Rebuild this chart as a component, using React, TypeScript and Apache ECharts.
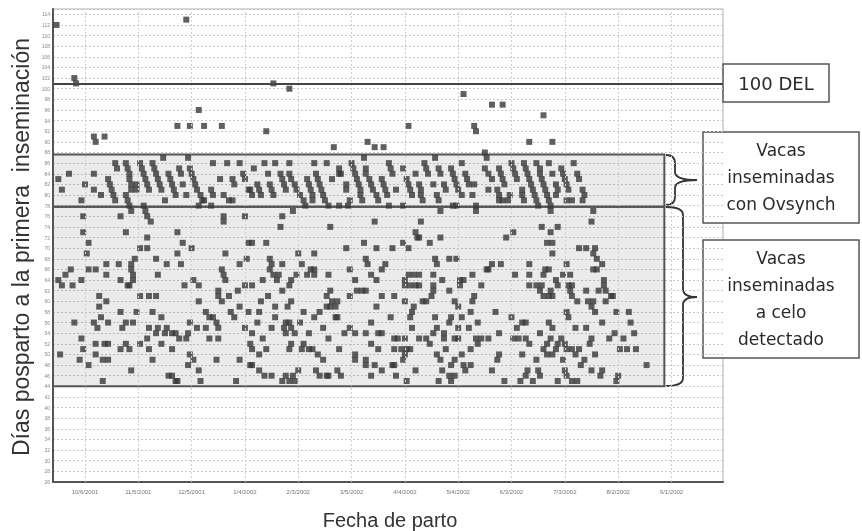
import React, { useEffect, useRef } from "react";
import * as echarts from "echarts";

// x = calving date as day offset from 10/6/2001, y = days postpartum at first insemination
const BASE_YEAR = 2001;
const BASE_MONTH = 9; // October (0-based)
const BASE_DAY = 6;

const X_TICKS = [0, 30, 60, 90, 120, 150, 180, 210, 240, 270, 300, 330];
const X_MIN = -18;
const X_MAX = 359;
const Y_MIN = 26;
const Y_MAX = 115;

const DEL_LINE = 100.9;
const OVSYNCH_BAND = [77.8, 87.6];
const ESTRUS_BAND = [44.0, 77.8];
const BOX_RIGHT = 326;

const OUTLIERS = [
  [-16, 112], [57, 113], [-6, 102], [-5, 101], [5, 91], [6, 90], [11, 91], [64, 96], [52, 93], [59, 93],
  [67, 93], [77, 93], [106, 101], [115, 100], [102, 92], [140, 89], [159, 90], [163, 89], [168, 89], [182, 93],
  [213, 99], [229, 97], [235, 97], [258, 95], [219, 93], [220, 92], [250, 90], [263, 90],
];

const BAND_A = [
  [-15, 83], [-13, 81], [-9, 84], [-2, 79], [0, 82], [5, 84], [5, 81], [9, 80],
  [13, 83], [14, 82], [15, 81], [16, 80], [17, 79], [17, 86], [18, 85],
  [23, 86], [24, 85], [25, 84], [25, 83], [26, 82], [26, 81], [23, 80], [24, 79], [25, 78],
  [31, 86], [32, 85], [33, 84], [34, 83], [35, 82], [36, 81], [29, 82], [29, 81],
  [38, 86], [39, 85], [40, 84], [41, 83], [42, 82], [43, 81], [33, 78],
  [44, 87], [47, 84], [48, 83], [49, 82], [50, 81], [51, 80], [45, 79],
  [53, 85], [54, 84], [58, 87], [59, 85], [60, 84], [61, 83], [62, 82], [63, 81], [55, 82], [57, 80],
  [65, 80], [66, 79], [67, 79], [64, 78], [72, 86], [71, 81], [72, 80], [76, 83], [80, 86], [83, 83],
  [84, 82], [87, 86], [89, 84], [90, 83], [92, 81], [94, 80], [95, 85], [78, 80], [81, 79], [83, 79], [71, 78],
];

const BAND_B = [
  [101, 86], [107, 86], [115, 86], [103, 84], [93, 81], [97, 82], [98, 81], [99, 80], [104, 82], [105, 81], [106, 80],
  [110, 84], [111, 83], [112, 82], [113, 81], [115, 84], [116, 83], [118, 82], [119, 81], [121, 80],
  [125, 83], [126, 82], [127, 81], [128, 80], [128, 79], [123, 79], [124, 78], [129, 86],
  [130, 84], [131, 83], [132, 82], [133, 81], [134, 80], [135, 79], [137, 78], [136, 86], [139, 83],
  [143, 85], [143, 84], [144, 84], [147, 82], [147, 81], [143, 78], [148, 78], [149, 79],
  [150, 86], [151, 85], [152, 84], [153, 83], [154, 82], [155, 81], [155, 80], [156, 79], [157, 87],
  [158, 85], [158, 84], [160, 83], [161, 82], [162, 81], [164, 80], [165, 79],
  [167, 83], [168, 82], [169, 81], [170, 80], [171, 86], [172, 85], [173, 84], [171, 78], [175, 81],
  [179, 85], [179, 78], [181, 83], [182, 82], [183, 81], [184, 80], [186, 84],
  [188, 82], [189, 81], [189, 80], [190, 79], [191, 86], [192, 85], [193, 84], [196, 82], [197, 87],
  [199, 85], [200, 84], [198, 80], [199, 79], [202, 82], [203, 81],
];

const BAND_C = [
  [206, 85], [207, 84], [212, 86], [208, 83], [209, 82], [210, 81], [212, 80], [214, 84], [215, 83], [216, 82],
  [219, 82], [218, 80], [207, 78], [209, 78], [220, 78], [225, 88], [226, 87], [225, 85], [227, 84], [229, 83], [227, 81],
  [232, 81], [233, 80], [233, 79], [235, 79], [238, 79], [233, 85], [234, 84], [235, 83], [236, 82],
  [240, 86], [241, 85], [242, 84], [243, 83], [239, 80], [247, 86], [248, 85], [249, 84], [246, 81], [246, 80], [247, 79],
  [250, 83], [251, 82], [252, 81], [253, 80], [254, 79], [255, 78],
  [254, 86], [256, 85], [256, 84], [257, 83], [258, 82], [259, 81], [260, 80], [261, 79], [262, 78],
  [261, 86], [263, 84], [265, 82], [266, 81], [265, 80],
  [268, 85], [269, 84], [270, 83], [271, 82], [272, 81], [271, 79], [274, 79],
  [275, 86], [277, 84], [278, 83], [280, 81], [281, 80], [280, 79],
];

const LOW_A = [
  [26, 77], [34, 77], [35, 76], [37, 75], [-1, 76], [20, 76], [-1, 73], [23, 73], [35, 72], [52, 73], [78, 76], [78, 75], [90, 76],
  [2, 71], [1, 69], [31, 70], [35, 70], [28, 68], [12, 67], [19, 67], [2, 66], [6, 66],
  [26, 67], [26, 66], [27, 65], [27, 64], [25, 63], [-8, 66], [-11, 65], [-15, 64], [-13, 63], [-2, 64], [-7, 63], [12, 65], [20, 64], [24, 63],
  [40, 68], [46, 67], [52, 69], [55, 71], [60, 70], [54, 67], [41, 65], [56, 63], [61, 64], [64, 63],
  [79, 69], [77, 66], [78, 65], [79, 64], [87, 67], [91, 68], [92, 71], [94, 71], [90, 63], [94, 63],
  [8, 61], [12, 60], [8, 59], [31, 61], [36, 61], [40, 61], [64, 60], [75, 62], [75, 61], [77, 60], [81, 61], [86, 62],
  [20, 58], [29, 58], [38, 58], [9, 57], [43, 57], [-6, 56], [5, 56], [7, 55], [13, 56], [23, 56], [27, 56], [21, 55],
  [36, 55], [41, 55], [40, 54], [46, 55], [45, 54], [49, 54], [51, 54], [53, 53], [58, 54], [57, 53],
  [68, 58], [70, 57], [72, 57], [74, 56], [75, 55], [70, 53], [75, 53], [59, 56], [63, 55], [68, 55],
  [82, 58], [84, 57], [87, 59], [92, 58], [90, 55], [94, 54],
  [-2, 53], [-1, 51], [6, 52], [6, 50], [13, 52], [11, 52], [10, 49], [13, 49], [-14, 50], [-3, 49], [2, 48],
  [20, 51], [23, 52], [25, 51], [31, 52], [35, 53], [36, 51], [38, 49], [43, 52], [49, 51],
  [59, 50], [61, 49], [58, 48], [64, 47], [74, 49], [87, 49], [93, 48], [93, 52], [94, 51],
  [26, 47], [10, 45], [47, 46], [49, 46], [51, 45], [52, 45], [65, 45], [85, 45],
];

const LOW_B = [
  [111, 76], [110, 74], [117, 77], [138, 74], [163, 75], [189, 75], [186, 73], [187, 72], [200, 77],
  [102, 71], [120, 69], [129, 69], [147, 70], [157, 71], [164, 70], [173, 70], [179, 71], [182, 70], [188, 72], [194, 71], [200, 72],
  [104, 68], [105, 67], [111, 67], [104, 66], [106, 65], [109, 65], [108, 64],
  [122, 67], [127, 66], [129, 66], [125, 65], [129, 65], [137, 65], [116, 64], [115, 63], [119, 65], [100, 64],
  [111, 62], [103, 61], [99, 60], [98, 58], [107, 59], [114, 59], [116, 60],
  [138, 62], [136, 61], [139, 60], [142, 60], [136, 59], [138, 59], [141, 59], [142, 57], [149, 61],
  [149, 66], [152, 64], [158, 68], [159, 67], [161, 65], [164, 64], [167, 66], [169, 67],
  [153, 62], [156, 62], [158, 62], [167, 61], [174, 61], [164, 59],
  [180, 64], [182, 65], [185, 65], [188, 65], [180, 63], [183, 63], [186, 63], [188, 63],
  [196, 65], [196, 63], [196, 62], [195, 61], [192, 60], [190, 60], [201, 64], [197, 68], [198, 67], [205, 68],
  [180, 60], [185, 59], [184, 58], [183, 57], [172, 57], [197, 57], [123, 58], [129, 57], [132, 58], [141, 57], [107, 57],
  [97, 56], [105, 55], [113, 56], [115, 56], [112, 55], [116, 55], [118, 54], [113, 54], [121, 56],
  [100, 53], [102, 51], [98, 50],
  [134, 55], [137, 53], [126, 54], [146, 54], [149, 55], [152, 54], [158, 54], [165, 54], [167, 54], [161, 56],
  [116, 52], [115, 51], [122, 51], [123, 52], [126, 51], [128, 51], [131, 50], [134, 49],
  [143, 51], [152, 50], [152, 49], [158, 49], [161, 52], [165, 51],
  [174, 53], [176, 53], [180, 53], [174, 51], [178, 51], [181, 51], [183, 51], [180, 50], [179, 49], [173, 48],
  [184, 55], [188, 53], [192, 53], [194, 52], [196, 54], [198, 55], [202, 54], [198, 50], [200, 49], [202, 53], [203, 51], [205, 56], [206, 57],
  [94, 48], [98, 47], [101, 46], [105, 46], [111, 45], [113, 46], [115, 45], [117, 46], [118, 45], [120, 47],
  [130, 47], [132, 46], [136, 46], [137, 46], [142, 47], [144, 46],
  [158, 48], [163, 48], [167, 47], [161, 46], [174, 48], [175, 46], [181, 45], [186, 47],
  [199, 45], [201, 47], [205, 46],
];

const LOW_C = [
  [220, 77], [286, 77], [285, 75], [262, 77], [257, 74], [262, 73], [266, 74], [237, 72], [241, 73],
  [260, 71], [263, 71], [263, 69],
  [278, 70], [282, 70], [287, 70], [286, 69], [288, 68], [291, 67], [286, 66], [288, 66],
  [209, 68], [229, 67], [234, 67], [227, 66], [226, 66], [218, 65], [223, 63],
  [250, 67], [259, 66], [261, 66], [258, 65], [242, 65], [250, 65], [250, 63], [254, 63], [256, 62], [257, 63], [258, 61], [261, 61], [263, 61], [262, 62], [265, 64], [266, 63],
  [269, 65], [273, 65], [271, 67], [272, 63], [274, 63], [273, 62], [274, 61], [277, 60], [271, 58], [272, 57],
  [282, 62], [283, 60], [286, 60], [285, 59], [287, 58], [289, 62], [292, 63], [292, 64], [293, 62], [296, 61], [297, 61], [293, 60], [291, 56],
  [299, 58], [306, 58], [307, 56], [309, 54], [298, 54], [295, 53], [303, 53],
  [301, 51], [305, 51], [310, 51], [316, 48],
  [211, 64], [213, 64], [211, 63], [205, 62], [208, 60], [210, 59], [217, 58], [218, 60], [219, 61], [212, 57], [210, 55], [216, 55], [221, 56], [231, 58], [233, 54],
  [208, 53], [210, 53], [220, 53], [221, 52], [223, 53], [227, 53], [217, 51], [212, 50], [208, 49], [206, 48], [213, 48], [214, 47], [217, 48], [229, 47], [233, 50], [232, 49], [206, 45], [208, 46],
  [240, 57], [243, 55], [246, 56], [248, 56], [241, 53], [244, 53], [248, 53], [250, 52], [246, 50], [254, 49], [256, 54],
  [261, 56], [263, 55], [262, 53], [260, 52], [258, 51], [260, 50], [263, 50], [265, 51], [266, 52], [268, 53], [270, 52], [271, 51], [274, 51], [276, 50], [278, 51], [269, 49],
  [276, 55], [282, 55], [285, 53], [284, 52], [287, 50], [281, 49], [279, 48],
  [236, 45], [245, 45], [248, 46], [249, 47], [252, 45], [255, 47], [256, 46], [266, 45], [270, 47], [271, 46], [274, 45], [277, 45], [285, 47], [291, 47], [290, 46], [300, 46], [299, 45],
];

const fmtDate = (v: number) => {
  const d = new Date(BASE_YEAR, BASE_MONTH, BASE_DAY + v);
  return `${d.getMonth() + 1}/${d.getDate()}/${d.getFullYear()}`;
};

function bracePath(x0: number, spine: number, tip: number, y1: number, y2: number, ym: number) {
  const r = 8;
  return (
    `M${x0} ${y1} Q${spine} ${y1} ${spine} ${y1 + r} L${spine} ${ym - r} ` +
    `Q${spine} ${ym} ${tip} ${ym} Q${spine} ${ym} ${spine} ${ym + r} ` +
    `L${spine} ${y2 - r} Q${spine} ${y2} ${x0} ${y2}`
  );
}

export default function App() {
  const ref = useRef<HTMLDivElement>(null);

  useEffect(() => {
    if (!ref.current) return;
    echarts.graphic.registerShape("brace1", echarts.graphic.extendPath(bracePath(666, 675, 697, 155, 205, 180), {}));
    echarts.graphic.registerShape("brace2", echarts.graphic.extendPath(bracePath(666, 683, 697, 207, 386, 297), {}));

    const chart = echarts.init(ref.current, null, { renderer: "svg" });
    const points = [...OUTLIERS, ...BAND_A, ...BAND_B, ...BAND_C, ...LOW_A, ...LOW_B, ...LOW_C];
    const boxStyle = { color: "rgba(0,0,0,0.08)", borderColor: "#555", borderWidth: 2 };
    const textFont = "'DejaVu Sans', 'Noto Sans', sans-serif";

    chart.setOption({
      animation: false,
      grid: {
        left: 53, right: 139, top: 9, bottom: 49,
        show: true, borderColor: "#b0b0b0", borderWidth: 1,
      },
      xAxis: {
        type: "value", min: X_MIN, max: X_MAX,
        axisLine: { show: true, onZero: false, lineStyle: { color: "#555", width: 2 } },
        axisTick: { show: false },
        splitLine: { show: false },
        axisLabel: {
          customValues: X_TICKS, formatter: (v: number) => fmtDate(v),
          fontSize: 6, color: "#777", margin: 7, fontFamily: "'Liberation Sans', Arial, sans-serif",
        },
      },
      yAxis: {
        type: "value", min: Y_MIN, max: Y_MAX, interval: 2,
        axisLine: { show: true, onZero: false, lineStyle: { color: "#555", width: 2 } },
        axisTick: { show: false },
        axisLabel: { fontSize: 5, color: "#888", margin: 3, showMaxLabel: false, fontFamily: "'Liberation Sans', Arial, sans-serif" },
        splitLine: { show: true, lineStyle: { color: "#c8c8c8", type: [2, 2], width: 1 } },
      },
      series: [
        {
          type: "line",
          z: 1,
          data: [],
          markLine: {
            silent: true,
            symbol: "none",
            label: { show: false },
            data: X_TICKS.map((v) => ({ xAxis: v, lineStyle: { color: "#cfcfcf", type: [2, 2], width: 1 } })),
          },
        },
        {
          type: "scatter",
          z: 3,
          symbol: "rect",
          symbolSize: 6,
          itemStyle: { color: "#383838" },
          data: points,
          markArea: {
            silent: true,
            data: [
              [{ xAxis: X_MIN, yAxis: OVSYNCH_BAND[0], itemStyle: boxStyle }, { xAxis: BOX_RIGHT, yAxis: OVSYNCH_BAND[1] }],
              [{ xAxis: X_MIN, yAxis: ESTRUS_BAND[0], itemStyle: boxStyle }, { xAxis: BOX_RIGHT, yAxis: ESTRUS_BAND[1] }],
            ],
          },
          markLine: {
            silent: true,
            symbol: "none",
            label: { show: false },
            data: [{ yAxis: DEL_LINE, lineStyle: { color: "#444", type: "solid", width: 2 } }],
          },
        },
      ],
      graphic: [
        { type: "brace1", x: 0, y: 0, silent: true, style: { fill: "none", stroke: "#333", lineWidth: 1.8 } },
        { type: "brace2", x: 0, y: 0, silent: true, style: { fill: "none", stroke: "#333", lineWidth: 1.8 } },
        { type: "rect", shape: { x: 723, y: 64, width: 106, height: 38 }, style: { fill: "#fff", stroke: "#555", lineWidth: 1.5 } },
        { type: "text", x: 776, y: 83, style: { text: "100 DEL", align: "center", verticalAlign: "middle", fontSize: 18, fontFamily: textFont, fill: "#2a2a2a" } },
        { type: "rect", shape: { x: 703, y: 132, width: 156, height: 91 }, style: { fill: "#fff", stroke: "#555", lineWidth: 1.5 } },
        { type: "text", x: 781, y: 177, style: { text: "Vacas\ninseminadas\ncon Ovsynch", align: "center", verticalAlign: "middle", fontSize: 17, lineHeight: 27, fontFamily: textFont, fill: "#2a2a2a" } },
        { type: "rect", shape: { x: 703, y: 240, width: 156, height: 118 }, style: { fill: "#fff", stroke: "#555", lineWidth: 1.5 } },
        { type: "text", x: 781, y: 298, style: { text: "Vacas\ninseminadas\na celo\ndetectado", align: "center", verticalAlign: "middle", fontSize: 17, lineHeight: 27, fontFamily: textFont, fill: "#2a2a2a" } },
        { type: "text", x: 21, y: 247, rotation: Math.PI / 2, style: { text: "Días posparto a la primera  inseminación", align: "center", verticalAlign: "middle", fontSize: 23, fontFamily: "'Liberation Sans', Arial, sans-serif", fill: "#333" } },
        { type: "text", x: 390, y: 520, style: { text: "Fecha de parto", align: "center", verticalAlign: "middle", fontSize: 20, fontFamily: "'Liberation Sans', Arial, sans-serif", fill: "#333" } },
      ],
    });

    return () => chart.dispose();
  }, []);

  return <div ref={ref} style={{ position: "fixed", left: 0, top: 0, width: 862, height: 531 }} />;
}
